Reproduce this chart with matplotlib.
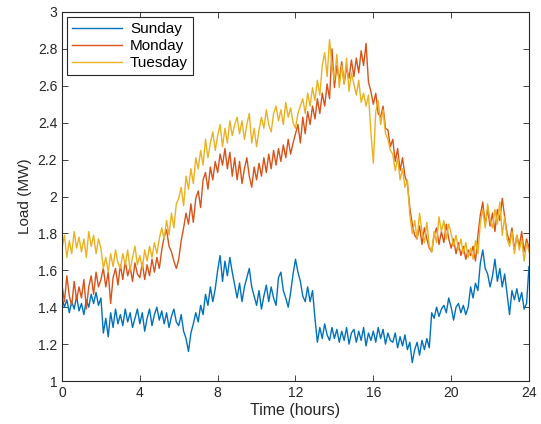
import numpy as np
import matplotlib
matplotlib.use("Agg")
from matplotlib import pyplot as plt

plt.rcParams['font.family'] = ['Liberation Sans', 'DejaVu Sans']

# sampled every 1/8 hour, 0..24
step = 0.125

sunday = [
    1.45, 1.40, 1.44, 1.37, 1.43, 1.39, 1.46, 1.38,
    1.42, 1.36, 1.44, 1.40, 1.47, 1.42, 1.48, 1.41,
    1.45, 1.26, 1.34, 1.24, 1.37, 1.29, 1.39, 1.31,
    1.36, 1.30, 1.39, 1.32, 1.37, 1.29, 1.34, 1.39,
    1.31, 1.37, 1.27, 1.34, 1.39, 1.30, 1.36, 1.40,
    1.33, 1.38, 1.31, 1.37, 1.29, 1.35, 1.39, 1.32,
    1.30, 1.36, 1.27, 1.23, 1.16, 1.26, 1.31, 1.37,
    1.32, 1.41, 1.36, 1.47, 1.41, 1.51, 1.43, 1.50,
    1.60, 1.68, 1.54, 1.65, 1.57, 1.67, 1.59, 1.52,
    1.45, 1.53, 1.43, 1.51, 1.56, 1.61, 1.51, 1.46,
    1.41, 1.49, 1.39, 1.46, 1.52, 1.43, 1.51, 1.45,
    1.41, 1.56, 1.59, 1.49, 1.45, 1.40, 1.48, 1.58,
    1.66, 1.59, 1.54, 1.46, 1.43, 1.51, 1.43, 1.49,
    1.34, 1.21, 1.29, 1.23, 1.31, 1.25, 1.22, 1.29,
    1.23, 1.28, 1.21, 1.27, 1.22, 1.29, 1.20, 1.26,
    1.28, 1.21, 1.27, 1.22, 1.29, 1.19, 1.26, 1.22,
    1.27, 1.21, 1.29, 1.23, 1.28, 1.20, 1.26, 1.22,
    1.21, 1.26, 1.18, 1.24, 1.19, 1.25, 1.17, 1.21,
    1.10, 1.17, 1.21, 1.14, 1.22, 1.17, 1.23, 1.18,
    1.37, 1.34, 1.40, 1.35, 1.39, 1.41, 1.37, 1.45,
    1.40, 1.33, 1.40, 1.42, 1.37, 1.41, 1.36, 1.40,
    1.51, 1.45, 1.53, 1.49, 1.64, 1.71, 1.61, 1.58,
    1.51, 1.57, 1.66, 1.54, 1.61, 1.51, 1.58, 1.47,
    1.36, 1.49, 1.44, 1.50, 1.43, 1.48, 1.39, 1.42,
    1.62,
]

monday = [
    1.52, 1.43, 1.57, 1.46, 1.41, 1.54, 1.44, 1.51,
    1.45, 1.55, 1.39, 1.51, 1.57, 1.47, 1.59, 1.51,
    1.55, 1.61, 1.51, 1.59, 1.42, 1.56, 1.61, 1.52,
    1.63, 1.55, 1.65, 1.57, 1.62, 1.54, 1.64, 1.58,
    1.56, 1.64, 1.55, 1.63, 1.57, 1.66, 1.59, 1.67,
    1.61, 1.71, 1.78, 1.82, 1.73, 1.70, 1.65, 1.61,
    1.66, 1.76, 1.83, 1.91, 1.85, 1.96, 1.86, 1.99,
    2.03, 1.94, 2.09, 2.13, 2.04, 2.16, 2.09, 2.19,
    2.13, 2.23, 2.17, 2.26, 2.15, 2.24, 2.11, 2.21,
    2.09, 2.19, 2.07, 2.15, 2.21, 2.11, 2.05, 2.16,
    2.09, 2.18, 2.11, 2.21, 2.13, 2.23, 2.15, 2.25,
    2.17, 2.26, 2.19, 2.28, 2.21, 2.31, 2.23, 2.29,
    2.34, 2.39, 2.29, 2.43, 2.34, 2.46, 2.39, 2.49,
    2.42, 2.53, 2.45, 2.56, 2.49, 2.61, 2.53, 2.80,
    2.59, 2.71, 2.63, 2.73, 2.61, 2.70, 2.64, 2.74,
    2.65, 2.75, 2.67, 2.79, 2.71, 2.83, 2.62, 2.57,
    2.50, 2.56, 2.45, 2.43, 2.49, 2.37, 2.36, 2.27,
    2.31, 2.19, 2.26, 2.14, 2.21, 2.11, 2.07, 1.94,
    1.85, 1.79, 1.77, 1.84, 1.74, 1.83, 1.77, 1.72,
    1.70, 1.79, 1.83, 1.74, 1.81, 1.75, 1.85, 1.77,
    1.72, 1.77, 1.69, 1.75, 1.68, 1.73, 1.66, 1.71,
    1.68, 1.73, 1.65, 1.79, 1.90, 1.97, 1.85, 1.93,
    1.84, 1.91, 1.81, 1.93, 1.87, 1.99, 1.89, 1.80,
    1.75, 1.83, 1.71, 1.79, 1.73, 1.81, 1.70, 1.77,
    1.72,
]

tuesday = [
    1.72, 1.79, 1.67, 1.76, 1.69, 1.81, 1.72, 1.78,
    1.70, 1.77, 1.67, 1.81, 1.73, 1.79, 1.69, 1.77,
    1.72, 1.61, 1.67, 1.59, 1.69, 1.62, 1.71, 1.64,
    1.61, 1.69, 1.63, 1.71, 1.60, 1.67, 1.73, 1.63,
    1.68, 1.61, 1.71, 1.65, 1.73, 1.67, 1.75, 1.69,
    1.77, 1.83, 1.77, 1.87, 1.79, 1.91, 1.83, 1.96,
    1.99, 2.05, 1.95, 2.11, 2.04, 2.15, 2.07, 2.21,
    2.15, 2.25, 2.17, 2.31, 2.21, 2.29, 2.35, 2.25,
    2.33, 2.39, 2.27, 2.37, 2.29, 2.41, 2.33, 2.39,
    2.43, 2.34, 2.41, 2.31, 2.39, 2.45, 2.29, 2.37,
    2.27, 2.36, 2.43, 2.37, 2.47, 2.39, 2.35, 2.45,
    2.49, 2.41, 2.47, 2.39, 2.51, 2.43, 2.48, 2.40,
    2.37, 2.45, 2.49, 2.53, 2.45, 2.56, 2.49, 2.59,
    2.52, 2.63, 2.55, 2.71, 2.78, 2.65, 2.85, 2.71,
    2.63, 2.77, 2.59, 2.71, 2.61, 2.75, 2.57, 2.67,
    2.61, 2.55, 2.63, 2.51, 2.56, 2.49, 2.55, 2.35,
    2.18, 2.46, 2.52, 2.39, 2.47, 2.34, 2.31, 2.25,
    2.23, 2.14, 2.21, 2.09, 2.15, 2.05, 2.09, 1.90,
    1.80, 1.87, 1.77, 1.91, 1.81, 1.75, 1.86, 1.73,
    1.70, 1.81, 1.75, 1.89, 1.81, 1.87, 1.77, 1.85,
    1.80, 1.73, 1.79, 1.71, 1.77, 1.69, 1.75, 1.67,
    1.72, 1.66, 1.76, 1.69, 1.86, 1.93, 1.83, 1.96,
    1.87, 1.83, 1.93, 1.85, 1.97, 1.79, 1.89, 1.77,
    1.73, 1.81, 1.69, 1.79, 1.71, 1.77, 1.65, 1.75,
    1.70,
]

hours = np.arange(len(sunday)) * step

fig = plt.figure(figsize=(5.41, 4.24), dpi=100)
ax = fig.add_axes([0.1146, 0.1014, 0.8632, 0.8703])

ax.plot(hours, sunday, color='#0072BD', lw=1.0, label='Sunday')
ax.plot(hours, monday, color='#D95319', lw=1.0, label='Monday')
ax.plot(hours, tuesday, color='#EDB120', lw=1.0, label='Tuesday')

ax.set_xlim(0, 24)
ax.set_ylim(1, 3)
ax.set_xticks(np.arange(0, 25, 4))
ax.set_yticks(np.arange(1, 3.01, 0.2))
ax.set_yticklabels(['1', '1.2', '1.4', '1.6', '1.8', '2', '2.2', '2.4', '2.6', '2.8', '3'])
ax.tick_params(direction='in', top=True, right=True, length=4, width=0.6,
               labelsize=10, colors='#262626')
for s in ax.spines.values():
    s.set_linewidth(0.8)
    s.set_color('#262626')

ax.set_xlabel('Time (hours)', fontsize=11.5, color='#262626', labelpad=2)
ax.set_ylabel('Load (MW)', fontsize=11, color='#262626', labelpad=4)

leg = ax.legend(loc='upper left', fontsize=11, fancybox=False, framealpha=1,
                edgecolor='#262626', handlelength=3.3, borderaxespad=0.35,
                labelspacing=0.2, borderpad=0.3, handletextpad=0.5)
leg.get_frame().set_linewidth(0.8)

fig.savefig('out.png', dpi=100)
